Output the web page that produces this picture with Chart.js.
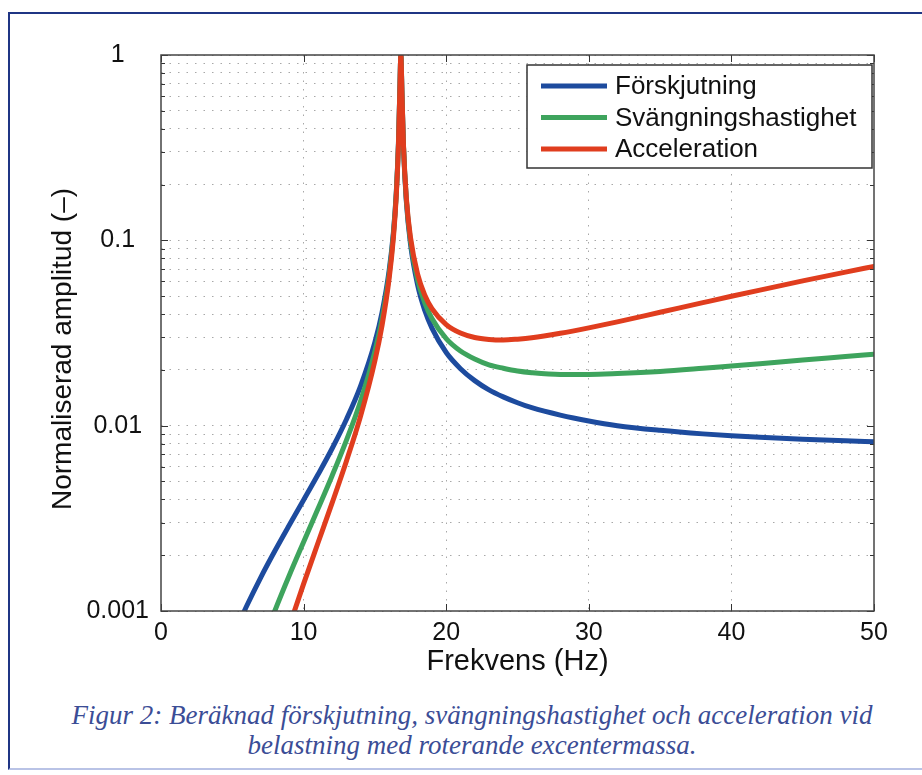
<!DOCTYPE html>
<html>
<head>
<meta charset="utf-8">
<script src="https://cdn.jsdelivr.net/npm/chart.js@4/dist/chart.umd.min.js"></script>
<style>
  html, body { margin: 0; padding: 0; background: #ffffff; width: 922px; height: 775px; overflow: hidden; }
  #frame { position: absolute; left: 8px; top: 12px; width: 940px; height: 754px;
           border-top: 2px solid #1f3584; border-left: 2px solid #1f3584; border-bottom: 2px solid #b9c3e6; }
  #wrap { position: absolute; left: 0; top: 0; width: 922px; height: 690px; }
  #caption { position: absolute; left: 0; width: 944px; top: 700px; text-align: center;
             font-family: "Liberation Serif", "DejaVu Serif", serif; font-style: italic;
             font-size: 27px; line-height: 30px; color: #3b4d96; }
</style>
</head>
<body>
<div id="frame"></div>
<div id="wrap"><canvas id="c" width="922" height="690"></canvas></div>
<div id="caption">Figur 2: Beräknad förskjutning, svängningshastighet och acceleration vid<br>belastning med roterande excentermassa.</div>
<script>
// ---- data ----
const freq = [5, 5.5, 6, 7, 8, 9, 10, 11, 12, 13, 14, 15, 15.5, 16, 16.3, 16.5, 16.65, 16.75, 16.82, 16.9, 17, 17.2, 17.5, 18, 18.5, 19, 20, 21, 22, 23, 24, 25, 26, 28, 30, 32, 35, 38, 40, 42, 45, 48, 50];
const forskjutning = [0.00070, 0.00087, 0.00106, 0.00152, 0.00212, 0.00291, 0.00397, 0.00543, 0.00753, 0.0108, 0.0164, 0.0282, 0.0408, 0.0689, 0.111, 0.182, 0.333, 0.654, 1, 0.611, 0.326, 0.164, 0.0949, 0.0572, 0.0418, 0.0336, 0.0248, 0.0203, 0.0175, 0.0156, 0.0143, 0.0133, 0.0125, 0.0114, 0.0106, 0.0100, 0.00944, 0.00903, 0.00882, 0.00865, 0.00844, 0.00828, 0.00819];
const svangningshastighet = [0.00021, 0.00028, 0.00038, 0.00063, 0.00101, 0.00156, 0.00236, 0.00355, 0.00537, 0.00833, 0.0136, 0.0252, 0.0376, 0.0655, 0.108, 0.179, 0.330, 0.651, 1, 0.613, 0.330, 0.168, 0.0987, 0.0612, 0.0460, 0.0379, 0.0295, 0.0253, 0.0229, 0.0213, 0.0204, 0.0197, 0.0193, 0.0189, 0.0189, 0.0191, 0.0196, 0.0204, 0.0210, 0.0216, 0.0226, 0.0236, 0.0243];
const acceleration = [0.000062, 0.000093, 0.000135, 0.000263, 0.00048, 0.00083, 0.00140, 0.00232, 0.00383, 0.00643, 0.0113, 0.0224, 0.0347, 0.0623, 0.104, 0.175, 0.326, 0.649, 1, 0.616, 0.333, 0.171, 0.103, 0.0655, 0.0506, 0.0428, 0.0351, 0.0316, 0.0299, 0.0292, 0.0290, 0.0293, 0.0298, 0.0315, 0.0337, 0.0363, 0.0409, 0.0461, 0.0499, 0.0539, 0.0604, 0.0674, 0.0723];
const seriesNames = ["Förskjutning", "Svängningshastighet", "Acceleration"];
const xTicks = [0, 10, 20, 30, 40, 50];
const yDecades = [0.001, 0.01, 0.1, 1];
const yDecadeLabels = ["0.001", "0.01", "0.1", "1"];
const xTitle = "Frekvens (Hz)";
const yTitle = "Normaliserad amplitud (\u2013)";

const colors = ["#1d4b9e", "#3ea45d", "#e03d1e"];
const FONT = "'Liberation Sans', Arial, sans-serif";

function pts(ys) { return freq.map((f, i) => ({ x: f, y: ys[i] })); }

// all log ticks: 1..9 x each decade up to 1
const yTickVals = [];
yDecades.forEach((d, i) => {
  if (i < yDecades.length - 1) { for (let k = 1; k <= 9; k++) yTickVals.push(+(d * k).toPrecision(3)); }
  else yTickVals.push(d);
});

const boxPlugin = {
  id: 'boxAndLegend',
  afterDraw(chart) {
    const { ctx, chartArea: a, scales } = chart;
    ctx.save();
    // inward ticks
    ctx.strokeStyle = '#333';
    ctx.lineWidth = 1;
    ctx.beginPath();
    xTicks.forEach(v => {
      const px = Math.round(scales.x.getPixelForValue(v)) + 0.5;
      ctx.moveTo(px, a.bottom); ctx.lineTo(px, a.bottom - 7);
      ctx.moveTo(px, a.top); ctx.lineTo(px, a.top + 7);
    });
    yTickVals.forEach(v => {
      const py = Math.round(scales.y.getPixelForValue(v)) + 0.5;
      const len = yDecades.includes(v) ? 7 : 4;
      ctx.moveTo(a.left, py); ctx.lineTo(a.left + len, py);
      ctx.moveTo(a.right, py); ctx.lineTo(a.right - len, py);
    });
    ctx.stroke();
    // axes box
    ctx.strokeStyle = '#444';
    ctx.lineWidth = 1.5;
    ctx.strokeRect(a.left, a.top, a.right - a.left, a.bottom - a.top);
    // y-axis title
    ctx.save();
    ctx.translate(63, 349);
    ctx.rotate(-Math.PI / 2);
    ctx.font = "28px " + FONT;
    ctx.fillStyle = '#111';
    ctx.textAlign = 'center';
    ctx.textBaseline = 'middle';
    ctx.fillText(yTitle, 0, 0);
    ctx.restore();
    // legend box
    const lx = 527, ly = 65, lw = 345, lh = 103;
    ctx.fillStyle = '#fff';
    ctx.fillRect(lx, ly, lw, lh);
    ctx.strokeStyle = '#333';
    ctx.lineWidth = 1.5;
    ctx.strokeRect(lx, ly, lw, lh);
    ctx.font = "26px " + FONT;
    ctx.textBaseline = 'middle';
    ctx.textAlign = 'left';
    chart.data.datasets.forEach((ds, i) => {
      const yy = ly + 21 + i * 31.5;
      ctx.strokeStyle = ds.borderColor;
      ctx.lineWidth = 5;
      ctx.beginPath(); ctx.moveTo(541, yy); ctx.lineTo(607, yy); ctx.stroke();
      ctx.fillStyle = '#111';
      ctx.fillText(ds.label, 615, yy + 1);
    });
    ctx.restore();
  }
};

new Chart(document.getElementById('c'), {
  type: 'line',
  data: {
    datasets: [
      { label: seriesNames[0], data: pts(forskjutning), borderColor: colors[0], order: 3 },
      { label: seriesNames[1], data: pts(svangningshastighet), borderColor: colors[1], order: 2 },
      { label: seriesNames[2], data: pts(acceleration), borderColor: colors[2], order: 1 }
    ]
  },
  options: {
    responsive: false,
    devicePixelRatio: 1,
    animation: false,
    parsing: false,
    layout: { padding: { left: 0, top: 55, right: 48, bottom: 0 } },
    elements: {
      point: { radius: 0 },
      line: { borderWidth: 5, cubicInterpolationMode: 'monotone', fill: false, borderCapStyle: 'round', borderJoinStyle: 'round' }
    },
    plugins: { legend: { display: false }, tooltip: { enabled: false } },
    scales: {
      x: {
        type: 'linear', min: 0, max: 50,
        afterBuildTicks(s) { s.ticks = xTicks.map(v => ({ value: v })); },
        afterFit(s) { s.height = 79; },
        grid: {
          drawTicks: false, lineWidth: 1,
          color: (c) => (c.tick && (c.tick.value === 0 || c.tick.value === 50)) ? 'rgba(0,0,0,0)' : '#a8a8a8'
        },
        border: { display: false, dash: [1.5, 7] },
        ticks: { color: '#111', font: { family: FONT, size: 25 }, padding: 7, maxRotation: 0 },
        title: { display: true, text: xTitle, color: '#111', font: { family: FONT, size: 29 }, padding: { top: 0, bottom: 11 } }
      },
      y: {
        type: 'logarithmic', min: 0.001, max: 1,
        afterBuildTicks(s) { s.ticks = yTickVals.map(v => ({ value: v, major: yDecades.includes(v) })); },
        afterFit(s) { s.width = 161; },
        grid: { drawTicks: false, lineWidth: 1, color: '#a8a8a8' },
        border: { display: false, dash: [1.5, 7] },
        ticks: {
          color: '#111', font: { family: FONT, size: 25 }, padding: 12, crossAlign: 'center', autoSkip: false,
          callback: (v) => { const i = yDecades.indexOf(v); return i >= 0 ? yDecadeLabels[i] : ''; }
        },
        title: { display: false }
      }
    }
  },
  plugins: [boxPlugin]
});
</script>
</body>
</html>
